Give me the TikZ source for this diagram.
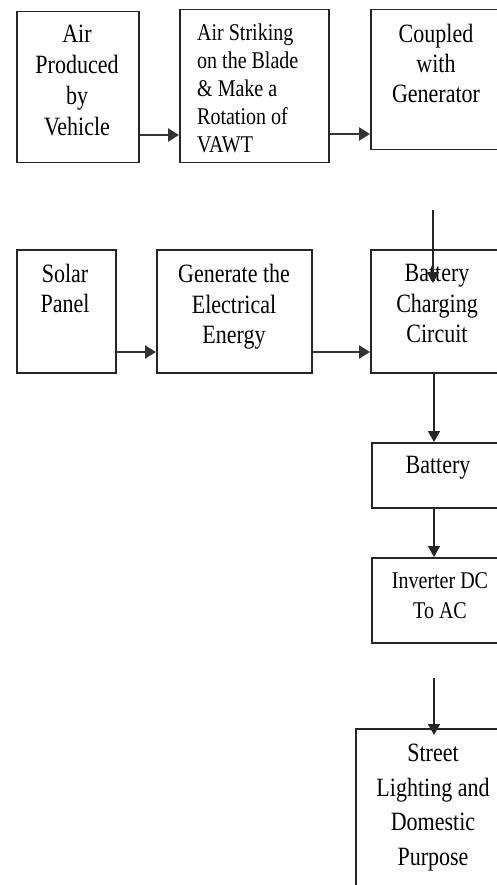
\documentclass[tikz,border=0pt]{standalone}
\usepackage{fontspec}
\setmainfont{Liberation Serif}
\usetikzlibrary{arrows.meta,calc}
\begin{document}
\begin{tikzpicture}[x=1pt,y=-1pt,
  box/.style={draw=black!85,line width=1.5pt,rectangle,inner sep=0pt,anchor=north west},
  lbl/.style={font=\fontsize{22}{25.8}\selectfont,align=center,anchor=north,inner sep=0pt,yscale=1.2},
  arr/.style={draw=black!80,line width=2.4pt,-{Triangle[length=11pt,width=13pt]}},
  varr/.style={draw=black!85,line width=1.6pt,-{Triangle[length=11pt,width=12pt]}}]
\useasboundingbox (0,0) rectangle (497,885);
\fill[white] (0,0) rectangle (497,885);
\clip (0,0) rectangle (497,885);
% boxes
\node[box,minimum width=122pt,minimum height=151pt] (b1) at (16,11) {};
\node[box,minimum width=149pt,minimum height=153pt] (b2) at (179,9) {};
\node[box,minimum width=140pt,minimum height=140pt] (b3) at (370,9) {};
\node[box,minimum width=99pt,minimum height=123pt] (s1) at (16,249) {};
\node[box,minimum width=155pt,minimum height=123pt] (g1) at (156,249) {};
\node[box,minimum width=140pt,minimum height=123pt] (c1) at (370,249) {};
\node[box,minimum width=140pt,minimum height=65pt] (bat) at (371,442) {};
\node[box,minimum width=140pt,minimum height=85pt] (inv) at (371,557) {};
\node[box,minimum width=160pt,minimum height=180pt] (st) at (355,728) {};
% texts
\node[lbl] (t1) at (77,25) {Air\\Produced\\by\\Vehicle};
\node[lbl,anchor=north west,align=left,font=\fontsize{20}{23.3}\selectfont] (t2) at (197,24) {Air Striking\\on the Blade\\\& Make a\\Rotation of\\VAWT};
\node[lbl,font=\fontsize{22}{25}\selectfont] (t3) at (436,24) {Coupled\\with\\Generator};
\node[lbl,font=\fontsize{22}{25}\selectfont] (t4) at (65,264) {Solar\\Panel};
\node[lbl,font=\fontsize{22}{25.4}\selectfont] (t5) at (234,264) {Generate the\\Electrical\\Energy};
\node[lbl,font=\fontsize{22}{25.4}\selectfont] (t6) at (437,264) {Battery\\Charging\\Circuit};
\node[lbl] (t7) at (438,456) {Battery};
\node[lbl,font=\fontsize{20}{25}\selectfont] (t8) at (440,572) {Inverter DC\\To AC};
\node[lbl,font=\fontsize{22}{28.7}\selectfont] (t9) at (433,744) {Street\\Lighting and\\Domestic\\Purpose};
% helper coordinates
\coordinate (r1) at (0,135);
\coordinate (r2) at (0,134);
\coordinate (r3) at (0,352);
\coordinate (vx) at (434,0);
\coordinate (ga) at (433,210);
\coordinate (gb) at (433,283);
\coordinate (ia) at (434,678);
\coordinate (ib) at (434,735);
% connectors
\draw[arr] (b1.east |- r1) -- (b2.west |- r1);
\draw[arr] (b2.east |- r2) -- (b3.west |- r2);
\draw[arr] (s1.east |- r3) -- (g1.west |- r3);
\draw[arr] (g1.east |- r3) -- (c1.west |- r3);
\draw[varr] (ga) -- (gb);
\draw[varr] (c1.south -| vx) -- (bat.north -| vx);
\draw[varr] (bat.south -| vx) -- (inv.north -| vx);
\draw[varr] (ia) -- (ib);
\end{tikzpicture}
\end{document}
